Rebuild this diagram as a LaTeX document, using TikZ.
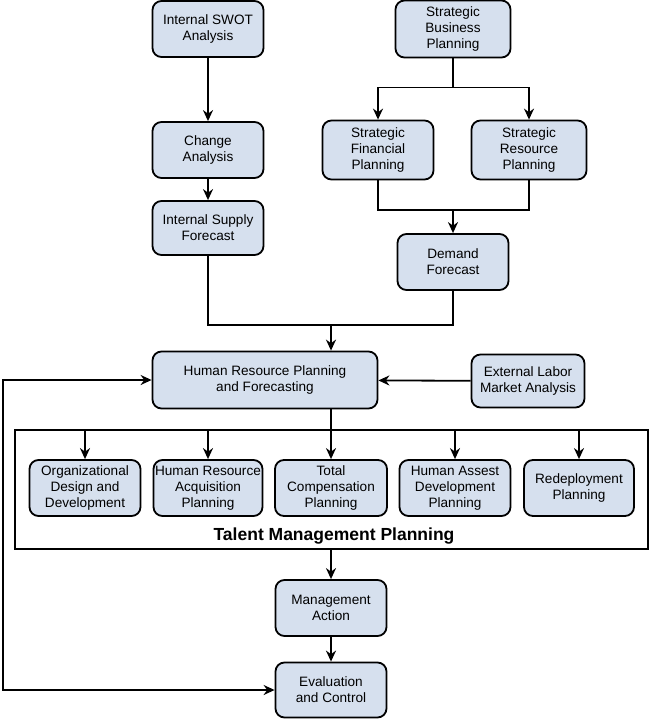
\documentclass[tikz,border=0pt]{standalone}
\usepackage{fontspec}
\setmainfont{Liberation Sans}
\usetikzlibrary{arrows.meta}
\definecolor{boxfill}{RGB}{214,224,238}
\tikzset{
  plan/.style={draw, line width=1.8pt, rounded corners=9pt, fill=boxfill, align=center,
    font=\fontsize{13.6}{16}\selectfont, inner sep=0pt, minimum width=111pt, minimum height=56pt},
  flow/.style={line width=1.8pt, -{Stealth[length=11pt,width=10pt]}},
  link/.style={line width=1.8pt}
}
\begin{document}
\begin{tikzpicture}[x=1pt,y=-1pt]
  \useasboundingbox (0,0) rectangle (650,720);
  % top left branch
  \node[plan] (swot) at (208,29) {Internal SWOT\\Analysis};
  \node[plan] (change) at (208,150) {Change\\Analysis};
  \node[plan, minimum height=54pt] (supply) at (208,228) {Internal Supply\\Forecast};
  % top right branch
  \node[plan, minimum width=115pt, minimum height=57pt] (business) at (453,29) {Strategic\\Business\\Planning};
  \node[plan, minimum height=59pt] (financial) at (378,150) {Strategic\\Financial\\Planning};
  \node[plan, minimum width=115pt, minimum height=59pt] (resource) at (529,150) {Strategic\\Resource\\Planning};
  \node[plan] (demand) at (453,262) {Demand\\Forecast};
  % middle
  \node[plan, minimum width=225pt, minimum height=57pt] (hrpf) at (265,380) {Human Resource Planning\\and Forecasting};
  \node[plan, minimum width=113pt, minimum height=53pt] (labor) at (528,381) {External Labor\\Market Analysis};
  \node[draw, line width=1.8pt, minimum width=633pt, minimum height=119pt, inner sep=0pt] (talent) at (331.5,489.5) {};
  \node[plan] (org) at (85,488) {Organizational\\Design and\\Development};
  \node[plan, minimum width=109pt] (acq) at (208,488) {Human Resource\\Acquisition\\Planning};
  \node[plan, minimum width=112pt] (comp) at (331,488) {Total\\Compensation\\Planning};
  \node[plan] (asset) at (455,488) {Human Assest\\Development\\Planning};
  \node[plan, minimum width=110pt] (redeploy) at (579,488) {Redeployment\\Planning};
  \node[font=\fontsize{17.5}{20}\selectfont\bfseries] (tmp) at (334,536) {Talent Management Planning};
  % bottom
  \node[plan] (action) at (331,608) {Management\\Action};
  \node[plan, minimum height=55pt] (control) at (331,690) {Evaluation\\and Control};
  \coordinate (loop) at (3,380);

  \draw[flow] (swot) -- (change);
  \draw[flow] (change) -- (supply);
  \draw[link] (business.south) -- ++(0,29) coordinate (split);
  \draw[flow] (split) -| (financial.north);
  \draw[flow] (split) -| (resource.north);
  \draw[link] (financial.south) |- (demand.north |- 0,210) coordinate (join) -| (resource.south);
  \draw[flow] (join) -- (demand.north);
  \draw[link] (supply.south) |- (comp.north |- 0,325) coordinate (merge) -| (demand.south);
  \draw[flow] (merge) -- (merge |- hrpf.north);
  \draw[flow] (labor) -- (hrpf);
  \draw[flow] (comp.north |- hrpf.south) -- (comp.north);
  \draw[flow] (talent.north -| org) -- (org.north);
  \draw[flow] (talent.north -| acq) -- (acq.north);
  \draw[flow] (talent.north -| asset) -- (asset.north);
  \draw[flow] (talent.north -| redeploy) -- (redeploy.north);
  \draw[flow] (talent.south -| action) -- (action.north);
  \draw[flow] (action) -- (control);
  \draw[link, {Stealth[length=11pt,width=10pt]}-{Stealth[length=11pt,width=10pt]}] (hrpf.west) -- (loop) |- (control.west);
\end{tikzpicture}
\end{document}
